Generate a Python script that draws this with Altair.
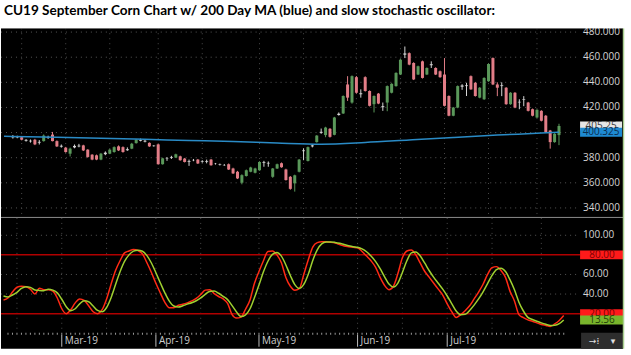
import altair as alt
import pandas as pd

TITLE = "CU19 September Corn Chart w/ 200 Day MA (blue) and slow stochastic oscillator:"

# ---- daily candles (index = trading day in view) ----
opens = [
    396.8, 396.2, 396.3, 394.2, 393.5, 394.3, 392.0, 393.2, 396.0, 398.4,
    393.2, 389.5, 388.0, 383.2, 388.2, 389.0, 389.8, 386.4, 382.4, 381.9,
    378.5, 382.8, 383.2, 384.5, 389.0, 388.4, 386.0, 387.2, 391.6, 393.5,
    393.5, 391.8, 389.6, 390.6, 374.8, 379.3, 380.0, 380.1, 381.1, 379.3,
    377.4, 378.2, 378.5, 377.3, 376.8, 378.5, 375.2, 374.8, 374.2, 374.8,
    371.4, 368.8, 360.1, 365.4, 368.8, 368.0, 370.0, 376.0, 375.4, 364.8,
    371.4, 375.6, 370.6, 364.8, 359.6, 368.8, 385.2, 377.4, 389.0, 392.4,
    399.8, 398.0, 403.0, 398.2, 414.0, 415.2, 438.3, 423.9, 444.1, 430.5,
    444.1, 433.1, 422.6, 431.0, 421.0, 423.9, 431.7, 437.0, 446.2, 462.0,
    463.2, 455.4, 446.2, 456.7, 446.2, 453.6, 451.4, 448.8, 446.2, 429.1,
    413.4, 419.9, 436.5, 437.0, 444.9, 439.6, 427.8, 426.5, 440.9, 459.3,
    438.3, 437.6, 435.7, 422.6, 431.7, 424.5, 426.5, 423.9, 418.6, 412.0,
    417.3, 413.4, 401.6, 392.4, 398.0]
highs = [
    398.0, 397.5, 397.0, 394.8, 394.5, 395.0, 394.0, 398.5, 397.5, 400.5,
    393.8, 390.5, 388.6, 388.0, 390.5, 391.0, 390.3, 386.8, 382.8, 382.5,
    383.8, 385.0, 387.0, 389.0, 389.8, 389.0, 388.2, 391.8, 394.8, 395.2,
    394.2, 392.2, 390.0, 391.0, 380.0, 380.5, 381.5, 383.2, 381.6, 379.8,
    378.5, 379.0, 379.0, 378.0, 378.5, 379.0, 375.8, 375.3, 375.0, 375.4,
    372.0, 369.5, 366.8, 370.6, 372.8, 372.0, 377.2, 377.5, 377.0, 371.8,
    375.3, 376.2, 371.2, 365.4, 366.5, 379.0, 387.4, 388.9, 390.6, 398.0,
    403.2, 404.6, 403.6, 412.5, 416.0, 429.6, 444.9, 445.5, 445.0, 434.4,
    444.8, 433.6, 429.6, 431.5, 423.9, 437.5, 439.3, 448.0, 458.5, 468.5,
    463.8, 456.0, 453.3, 457.3, 451.9, 456.7, 452.0, 449.4, 459.3, 429.6,
    420.4, 437.5, 438.5, 439.6, 445.5, 440.2, 436.2, 444.0, 455.1, 459.8,
    440.0, 440.0, 436.2, 432.2, 432.2, 426.5, 429.0, 424.4, 419.1, 418.6,
    417.8, 414.0, 402.1, 399.5, 407.0]
lows = [
    395.2, 395.5, 393.8, 392.8, 392.0, 390.0, 390.5, 392.8, 395.0, 393.0,
    388.5, 388.0, 384.0, 381.0, 387.5, 388.3, 385.3, 380.0, 378.0, 378.0,
    378.0, 382.0, 382.8, 384.0, 385.3, 384.0, 385.5, 386.8, 391.2, 393.0,
    392.2, 388.6, 388.8, 374.5, 374.5, 377.5, 379.0, 379.8, 377.6, 376.2,
    373.5, 377.2, 375.0, 376.0, 375.5, 373.6, 374.5, 373.8, 373.5, 370.2,
    367.0, 363.0, 358.8, 365.0, 368.4, 367.5, 369.6, 372.8, 372.8, 364.0,
    371.0, 372.0, 361.8, 354.5, 353.0, 368.3, 378.0, 377.0, 388.2, 392.0,
    399.0, 396.3, 396.0, 397.8, 413.5, 414.8, 425.2, 423.0, 431.0, 427.8,
    432.6, 420.8, 416.0, 422.6, 417.3, 417.0, 431.2, 436.5, 445.8, 459.3,
    453.6, 441.8, 445.8, 443.0, 445.8, 451.4, 445.8, 443.6, 420.8, 413.0,
    413.0, 419.4, 434.0, 429.1, 434.0, 428.6, 427.3, 426.0, 440.4, 437.8,
    429.0, 429.0, 422.1, 422.1, 419.4, 418.6, 421.0, 416.8, 412.9, 411.5,
    408.9, 399.7, 387.2, 391.9, 390.0]
closes = [
    396.2, 396.6, 394.3, 393.5, 393.0, 390.6, 392.6, 397.6, 396.4, 393.2,
    389.0, 388.8, 384.5, 387.2, 389.4, 389.6, 385.8, 380.6, 378.5, 378.5,
    383.2, 384.0, 386.4, 388.4, 385.8, 384.5, 386.8, 391.1, 394.3, 394.2,
    392.8, 389.0, 389.2, 374.8, 379.5, 379.0, 380.6, 382.7, 378.0, 376.6,
    376.8, 378.0, 375.4, 376.8, 377.4, 374.0, 375.0, 374.4, 374.0, 370.6,
    367.5, 363.5, 366.1, 370.0, 372.2, 371.4, 376.6, 376.6, 375.9, 371.4,
    374.8, 372.4, 362.2, 355.2, 366.0, 378.5, 385.8, 388.4, 389.8, 397.6,
    400.6, 404.0, 396.6, 412.0, 415.0, 429.1, 427.8, 444.9, 431.7, 431.3,
    433.1, 421.3, 429.1, 423.1, 420.2, 437.0, 438.8, 447.5, 458.0, 463.0,
    454.1, 442.3, 452.8, 443.5, 451.4, 454.4, 446.2, 444.1, 421.3, 413.4,
    419.9, 437.0, 437.5, 437.6, 434.4, 429.1, 435.7, 443.5, 454.6, 438.3,
    435.7, 437.0, 422.6, 431.7, 419.9, 424.0, 426.0, 417.3, 413.4, 418.1,
    409.4, 400.2, 392.4, 399.0, 405.25]

# ---- 200 day moving average (read at sample days) ----
ma_idx = [-2, 0, 10, 20, 30, 40, 50, 60, 70, 80, 90, 100, 110, 120, 124]
ma_val = [397.0, 396.9, 396.2, 395.4, 394.6, 393.7, 392.9, 391.7, 390.8,
          392.1, 394.1, 396.1, 398.0, 399.6, 400.325]

# ---- slow stochastic (first value is the day just left of the view) ----
stoch_k = [
    34,
    36, 42, 47, 48, 47.5, 45, 40, 46, 44.5, 44.5,
    43, 36, 25, 20, 24, 31, 35, 33.5, 28, 22,
    20, 24, 35, 50, 64, 74, 82, 84, 85.5, 84.5,
    81, 72, 62, 51, 41, 31.5, 26, 26, 28.5, 29.5,
    31, 33, 35.5, 39.5, 44, 44.5, 40.5, 37.5, 35, 30.5,
    19, 15.5, 16.5, 24.5, 34, 51, 63, 74, 83.5, 84,
    80, 72, 57, 48, 44, 45.5, 60, 75, 88, 92.5,
    93.5, 93.3, 92.8, 92, 90.5, 89, 88.3, 87.7, 87.2, 83.5,
    78.8, 74, 67.5, 57.2, 49, 44.5, 48, 61, 77, 84,
    85, 80, 71.5, 63, 57, 51, 45, 39, 30, 22,
    16, 19, 23, 28, 35, 42, 50, 60, 67, 68,
    64, 57, 43, 33, 19, 16, 13.7, 12.2, 10.6, 9,
    8, 7, 9.5, 13, 18]
stoch_d = [
    38,
    37, 39, 41.7, 45.7, 47.5, 46.8, 44.2, 43.7, 43.5, 45,
    44, 41.2, 34.7, 27, 23, 25, 30, 33.2, 32.2, 27.8,
    23.3, 22, 26.3, 36.3, 49.7, 62.7, 73.3, 80, 83.8, 84.7,
    83.7, 79.2, 71.7, 61.7, 51.3, 41.2, 32.8, 27.8, 26.8, 28,
    29.7, 31.2, 33.2, 36, 39.7, 42.7, 43, 40.8, 37.7, 34.3,
    28.2, 21.7, 17, 18.8, 25, 36.5, 49.3, 62.7, 73.5, 80.5,
    82.5, 78.7, 69.7, 59, 49.7, 45.8, 49.8, 60.2, 74.3, 85.2,
    91.3, 93.1, 93.2, 92.7, 91.8, 90.5, 89.3, 88.3, 87.7, 86.1,
    83.2, 78.8, 73.4, 66.2, 57.9, 50.2, 47.2, 51.2, 62, 74,
    82, 83, 78.8, 71.5, 63.8, 57, 51, 45, 38, 30.3,
    22.7, 19, 19.3, 23.3, 28.7, 35, 42.3, 50.7, 59, 65,
    66.3, 63, 54.7, 44.3, 31.7, 22.7, 16.2, 14, 12.2, 10.6,
    9.2, 8, 8.2, 9.8, 13.56]

# ---- axes / labels ----
price_grid = [340, 360, 380, 400, 420, 440, 460, 480]
price_ticks = [340, 360, 380, 420, 440, 460, 480]
osc_grid = [40, 60, 100]
osc_levels = [80, 20]
month_labels = ["Mar-19", "Apr-19", "May-19", "Jun-19", "Jul-19"]
month_idx = [12, 33, 56, 78, 98]
half_month_idx = [2, 12, 22, 33, 43, 56, 66, 78, 88, 98, 108, 119]
last_close = 405.25
last_ma = 400.325
last_d = 13.56

W = 578
H_PRICE = 190
H_OSC = 115
RIGHT = 623
FULL = 631
FONT = "Open Sans"
LABEL_X = 583

xs = alt.Scale(domain=[-1.56, 127.2], nice=False, zero=False)
ys_price = alt.Scale(domain=[332.05, 483.05], nice=False, zero=False)
ys_osc = alt.Scale(domain=[0.5, 117.7], nice=False, zero=False)

n = len(opens)
cdf = pd.DataFrame({"i": list(range(n)), "o": opens, "h": highs, "l": lows, "c": closes})


def kind(o, c):
    if abs(c - o) < 1.3:
        return "doji"
    return "up" if c > o else "down"


cdf["kind"] = [kind(o, c) for o, c in zip(opens, closes)]
cscale = alt.Scale(domain=["up", "down", "doji"], range=["#5a985a", "#e27d87", "#d6d6d6"])

one = pd.DataFrame({"k": [0]})
X = alt.X("i:Q", scale=xs, axis=None)
vgrid_df = pd.DataFrame({"i": half_month_idx})


def box(x0, x1, y0, y1, color):
    return alt.Chart(one).mark_rect(color=color).encode(
        x=alt.value(x0), x2=alt.value(x1), y=alt.value(y0), y2=alt.value(y1))


def vrule(x, y0, y1, color, w=1.0):
    return alt.Chart(one).mark_rule(color=color, strokeWidth=w).encode(
        x=alt.value(x), y=alt.value(y0), y2=alt.value(y1))


def vgrid(h):
    return alt.Chart(vgrid_df).mark_rule(color="#4a4a4a", strokeDash=[1, 4], strokeWidth=1).encode(
        x=X, y=alt.value(0), y2=alt.value(h))


def value_box(df, scale, fill, txt, xc=601, w=42, h=9):
    b = alt.Chart(df).mark_tick(orient="horizontal", size=w, thickness=h, color=fill, opacity=1).encode(
        x=alt.value(xc), y=alt.Y("v:Q", scale=scale, axis=None))
    t = alt.Chart(df).mark_text(font=FONT, fontSize=10, color=txt, align="center", baseline="middle").encode(
        x=alt.value(xc), y=alt.Y("v:Q", scale=scale, axis=None), text="t:N")
    return [b, t]


def grid_and_labels(vals, labelled, scale, fmt):
    g = alt.Chart(pd.DataFrame({"p": vals})).mark_rule(
        color="#555555", strokeDash=[1, 4], strokeWidth=1
    ).encode(y=alt.Y("p:Q", scale=scale, axis=None), x=alt.value(0), x2=alt.value(W))
    lab = alt.Chart(pd.DataFrame({"p": labelled, "t": [format(v, fmt) for v in labelled]})).mark_text(
        align="left", baseline="middle", font=FONT, fontSize=10, color="#d4d4d4"
    ).encode(y=alt.Y("p:Q", scale=scale, axis=None), x=alt.value(LABEL_X), text="t:N")
    return g, lab


# ================= price panel =================
title_txt = alt.Chart(pd.DataFrame({"t": [TITLE]})).mark_text(
    align="left", baseline="middle", font="Lato", fontSize=13.6, fontWeight="bold", color="black"
).encode(x=alt.value(3), y=alt.value(-17), text="t:N")

grid_top, labels_top = grid_and_labels(price_grid, price_ticks, ys_price, ".3f")

wicks = alt.Chart(cdf).mark_rule(strokeWidth=1).encode(
    x=X, y=alt.Y("l:Q", scale=ys_price, axis=None), y2="h:Q",
    color=alt.Color("kind:N", scale=cscale, legend=None))

bodies = alt.Chart(cdf).mark_bar(size=3).encode(
    x=X, y=alt.Y("o:Q", scale=ys_price, axis=None), y2="c:Q",
    color=alt.Color("kind:N", scale=cscale, legend=None))

ma_line = alt.Chart(pd.DataFrame({"i": ma_idx, "v": ma_val})).mark_line(
    color="#2a8bc6", strokeWidth=1.5, interpolate="monotone", clip=True
).encode(x=X, y=alt.Y("v:Q", scale=ys_price, axis=None))

sep = alt.Chart(one).mark_rule(color="#8c8c8c", strokeWidth=1).encode(
    x=alt.value(0), x2=alt.value(RIGHT), y=alt.value(H_PRICE - 0.5))

close_df = pd.DataFrame({"v": [last_close], "t": [f"{last_close:.2f}"]})
ma_df = pd.DataFrame({"v": [last_ma], "t": [f"{last_ma:.3f}"]})

top = alt.layer(
    box(0, RIGHT, 0, H_PRICE, "black"),
    grid_top, vgrid(H_PRICE - 1), wicks, bodies, ma_line, sep, labels_top,
    *value_box(close_df, ys_price, "#e6e6e6", "#3a3a3a"),
    *value_box(ma_df, ys_price, "#1e8ad2", "#0b2c4d"),
    vrule(RIGHT + 0.5, 0, H_PRICE, "#a9cf8f", 1.5),
    box(0, FULL, -28, 0, "white"),
    title_txt,
).properties(width=W, height=H_PRICE)

# ================= oscillator panel =================
sdf = pd.DataFrame({"i": list(range(-1, len(stoch_k) - 1)), "k": stoch_k, "d": stoch_d})

grid_bot, labels_bot = grid_and_labels(osc_grid, osc_grid, ys_osc, ".2f")

levels = alt.Chart(pd.DataFrame({"p": osc_levels})).mark_rule(color="#b00000", strokeWidth=1.5).encode(
    y=alt.Y("p:Q", scale=ys_osc, axis=None), x=alt.value(0), x2=alt.value(W + 2))

k_line = alt.Chart(sdf).mark_line(color="#ff2a14", strokeWidth=1.5, interpolate="monotone", clip=True).encode(
    x=X, y=alt.Y("k:Q", scale=ys_osc, axis=None))
d_line = alt.Chart(sdf).mark_line(color="#9fd030", strokeWidth=1.5, interpolate="monotone", clip=True).encode(
    x=X, y=alt.Y("d:Q", scale=ys_osc, axis=None))

lvl_df = pd.DataFrame({"v": osc_levels, "t": [f"{v:.2f}" for v in osc_levels]})
d_df = pd.DataFrame({"v": [last_d], "t": [f"{last_d:.2f}"]})

day_ticks = alt.Chart(cdf).mark_tick(orient="vertical", size=2, thickness=1, color="#9a9a9a", opacity=1).encode(
    x=X, y=alt.value(H_OSC + 1))

mdf = pd.DataFrame({"i": month_idx, "m": month_labels})
m_ticks = alt.Chart(mdf).mark_rule(color="#bdbdbd", strokeWidth=1).encode(
    x=X, y=alt.value(H_OSC + 2), y2=alt.value(H_OSC + 14))
m_text = alt.Chart(mdf).mark_text(align="left", baseline="middle", font=FONT, fontSize=10, color="#cfcfcf", dx=3).encode(
    x=X, y=alt.value(H_OSC + 8), text="m:N")

icon1 = alt.Chart(pd.DataFrame({"t": ["\u2192\u205e"]})).mark_text(
    align="center", baseline="middle", fontSize=9, color="#e0e0e0", font="DejaVu Sans"
).encode(x=alt.value(594), y=alt.value(H_OSC + 8), text="t:N")
icon2 = alt.Chart(pd.DataFrame({"t": ["\u25be"]})).mark_text(
    align="center", baseline="middle", fontSize=9, color="#e0e0e0", font="DejaVu Sans"
).encode(x=alt.value(613), y=alt.value(H_OSC + 8), text="t:N")

bottom = alt.layer(
    box(0, FULL, H_OSC + 16, H_OSC + 22, "white"),
    box(0, RIGHT, 0, H_OSC + 16, "black"),
    grid_bot, vgrid(H_OSC), levels, k_line, d_line, labels_bot,
    *value_box(lvl_df, ys_osc, "#ff1a1a", "#7a0000", xc=602, w=44),
    *value_box(d_df, ys_osc, "#79b52c", "#1f3d08", xc=602, w=44),
    day_ticks, m_ticks, m_text,
    box(W + 3, RIGHT, H_OSC, H_OSC + 16, "#2d2d2d"),
    icon1, icon2,
    vrule(RIGHT + 0.5, 0, H_OSC + 16, "#a9cf8f", 1.5),
).properties(width=W, height=H_OSC)

chart = alt.vconcat(top, bottom, spacing=0, bounds="flush").properties(
    padding=0,
    background="white",
).configure_view(stroke=None)

chart.save("out.html", embed_options={"renderer": "svg", "actions": False})
